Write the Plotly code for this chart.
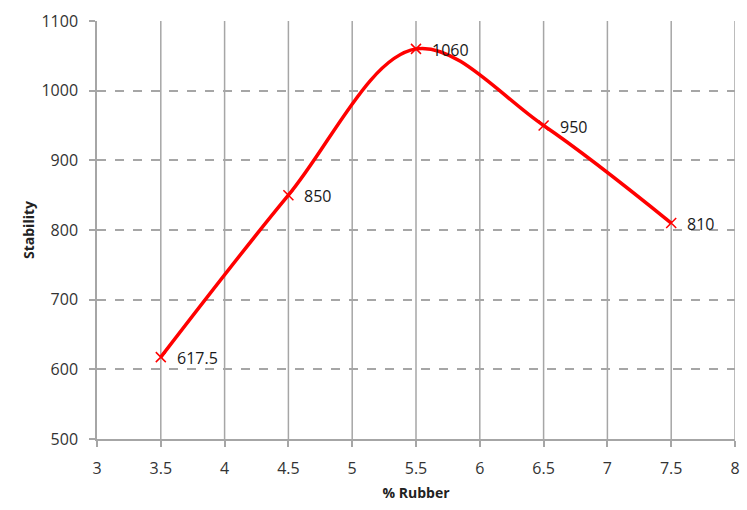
import plotly.graph_objects as go

rubber = [3.5, 4.5, 5.5, 6.5, 7.5]
stability = [617.5, 850, 1060, 950, 810]
labels = [str(v) for v in stability]

x_ticks = [3, 3.5, 4, 4.5, 5, 5.5, 6, 6.5, 7, 7.5, 8]
y_ticks = [500, 600, 700, 800, 900, 1000, 1100]

RED = "#ff0000"
GRID = "#a6a6a6"
FONT = "Open Sans"

fig = go.Figure()

# vertical grid drawn as solid lines
for xv in x_ticks[1:]:
    fig.add_shape(type="line", xref="x", yref="paper", x0=xv, x1=xv, y0=0, y1=1,
                  line=dict(color=GRID, width=1.5), layer="below")

fig.add_trace(go.Scatter(
    x=rubber, y=stability, mode="lines+markers",
    line=dict(color=RED, width=3.5, shape="spline", smoothing=1),
    marker=dict(symbol="x-thin", size=10, line=dict(color=RED, width=1.5), color=RED),
    hoverinfo="skip", showlegend=False,
))

for xv, yv, t in zip(rubber, stability, labels):
    fig.add_annotation(x=xv, y=yv, text=t, showarrow=False, xanchor="left",
                       yanchor="middle", xshift=14, yshift=-1,
                       font=dict(family=FONT, size=16, color="#1a1a1a"))

fig.update_xaxes(
    range=[3, 8], tickvals=x_ticks, ticktext=[f"{v:g}" for v in x_ticks],
    showgrid=False, zeroline=False, showline=True, linecolor=GRID, linewidth=1.5,
    ticks="outside", ticklen=6, tickcolor=GRID, tickwidth=1.5, ticklabelstandoff=8,
    tickfont=dict(family=FONT, size=16, color="#333333"),
    title=dict(text="<b>% Rubber</b>", font=dict(family=FONT, size=14, color="#222222"), standoff=10),
)
fig.update_yaxes(
    range=[500, 1100], tickvals=y_ticks,
    showgrid=True, gridcolor=GRID, griddash="dash", gridwidth=1.5,
    zeroline=False, showline=True, linecolor=GRID, linewidth=1.5,
    ticks="outside", ticklen=6, tickcolor=GRID, tickwidth=1.5, ticklabelstandoff=8,
    tickfont=dict(family=FONT, size=16, color="#333333"),
    title=dict(text="<b>Stability</b>", font=dict(family=FONT, size=14, color="#222222"), standoff=4),
)

fig.update_layout(
    width=747, height=510,
    margin=dict(l=97, r=7, t=21, b=71),
    plot_bgcolor="white", paper_bgcolor="white",
)

fig.write_html("out.html")
